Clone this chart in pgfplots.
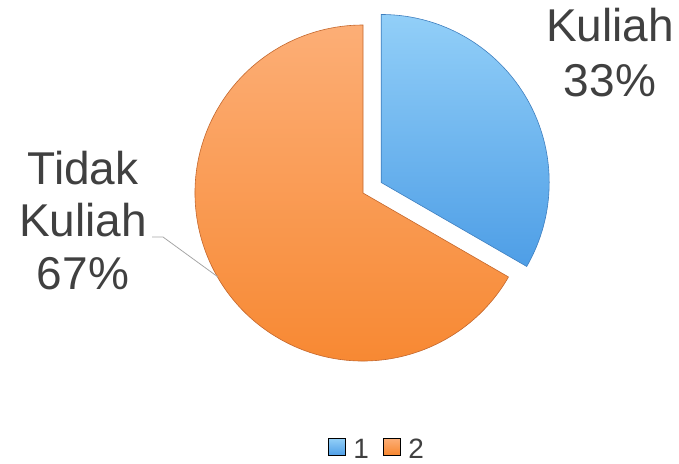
\documentclass[border=0pt]{standalone}
\usepackage{pgfplots}
\pgfplotsset{compat=1.18}
\usepackage{fontspec}
\setmainfont{Liberation Sans}
\definecolor{txt}{HTML}{404040}
\definecolor{bluetop}{HTML}{92CFF8}
\definecolor{bluebot}{HTML}{4E9EE6}
\definecolor{blueedge}{HTML}{3F7FBF}
\definecolor{oratop}{HTML}{FCAE76}
\definecolor{orabot}{HTML}{F7862E}
\definecolor{oraedge}{HTML}{C4672C}
\begin{document}
\begin{tikzpicture}
% slice values (percent)
\def\valA{33.33}
\def\valB{66.67}
\pgfmathsetmacro{\angA}{360*\valA/(\valA+\valB)}
\pgfmathsetmacro{\endA}{90-\angA}
\begin{axis}[
  width=679pt, height=463pt, scale only axis,
  xmin=0, xmax=679, ymin=0, ymax=463,
  hide axis, clip=false,
  legend columns=2,
  legend style={at={(axis cs:376,3)}, anchor=south, draw=none, fill=none,
    inner sep=0pt, outer sep=0pt,
    nodes={inner sep=0pt, outer sep=0pt, font=\fontsize{28}{28}\selectfont, text=txt},
    /tikz/every odd column/.append style={column sep=8pt},
    /tikz/every even column/.append style={column sep=14pt}},
  legend image code/.code={\shade[#1] (0pt,-6pt) rectangle (17pt,11pt);},
]
\path (axis cs:0,0) rectangle (axis cs:679,463);
% orange slice (Tidak Kuliah)
\shade[top color=oratop, bottom color=orabot, draw=oraedge, line width=0.6pt]
  (axis cs:363,270) -- ++(\endA:168pt) arc[start angle=\endA, end angle=-270, radius=168pt] -- cycle;
% blue slice (Kuliah), exploded
\shade[top color=bluetop, bottom color=bluebot, draw=blueedge, line width=0.6pt]
  (axis cs:381.2,280.5) -- ++(90:168pt) arc[start angle=90, end angle=\endA, radius=168pt] -- cycle;
\addlegendimage{top color=bluetop, bottom color=bluebot}
\addlegendentry{1}
\addlegendimage{top color=oratop, bottom color=orabot}
\addlegendentry{2}
% labels
\begin{scope}[every node/.style={font=\fontsize{46}{53}\selectfont, text=txt, inner sep=0pt, anchor=base}]
\node at (axis cs:610,421) {Kuliah};
\node at (axis cs:610,366) {33\%};
\node at (axis cs:83,278) {Tidak};
\node at (axis cs:83,226) {Kuliah};
\node at (axis cs:83,173) {67\%};
\end{scope}
\draw[gray!70, line width=0.8pt] (axis cs:152,226) -- (axis cs:163,226) -- (axis cs:218,186);
\end{axis}
\end{tikzpicture}
\end{document}
